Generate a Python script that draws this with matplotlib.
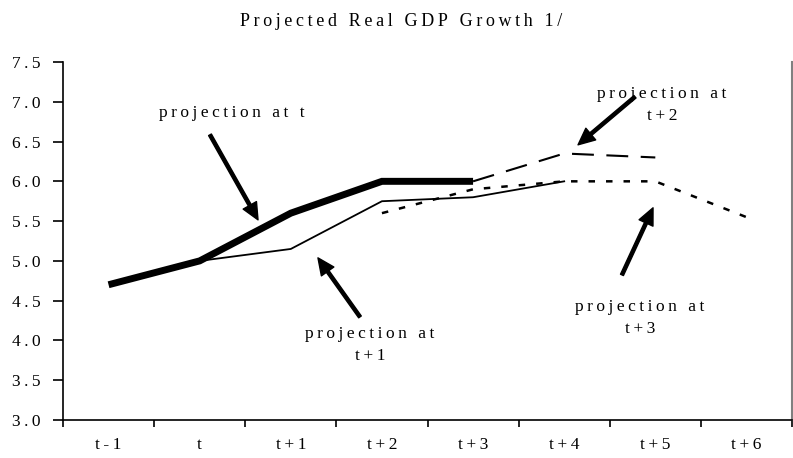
import matplotlib
matplotlib.use("Agg")
import matplotlib.pyplot as plt
import numpy as np

categories = ["t-1", "t", "t+1", "t+2", "t+3", "t+4", "t+5", "t+6"]
proj_t  = [4.70, 5.00, 5.60, 6.00, 6.00, None, None, None]
proj_t1 = [None, 5.00, 5.15, 5.75, 5.80, 6.00, None, None]
proj_t2 = [None, None, None, None, 6.00, 6.35, 6.30, None]
proj_t3 = [None, None, None, 5.60, 5.90, 6.00, 6.00, 5.55]
yticks = [3.0, 3.5, 4.0, 4.5, 5.0, 5.5, 6.0, 6.5, 7.0, 7.5]
title = "Projected Real GDP Growth 1/"

FAM = ["Liberation Serif", "DejaVu Serif"]
TS = "\u2009"

def spaced(s):
    return "\n".join(TS.join(list(line)) for line in s.split("\n"))

def arr(v):
    return np.array([np.nan if a is None else a for a in v], dtype=float)

fig = plt.figure(figsize=(7.93, 4.58), dpi=100)
ax = fig.add_axes([63/793, 1-420/458, (792-63)/793, (420-62)/458])
x = np.arange(len(categories))

ax.plot(x, arr(proj_t), color="black", lw=5.0, solid_capstyle="butt", solid_joinstyle="miter", zorder=4)
ax.plot(x, arr(proj_t1), color="black", lw=1.3, zorder=3)
ax.plot(x, arr(proj_t2), color="black", lw=1.5, linestyle=(0, (10.5, 6)), zorder=3)
ax.plot(x, arr(proj_t3), color="black", lw=1.8, linestyle=(0, (2.6, 4.4)), zorder=3)

ax.set_xlim(-0.5, len(categories) - 0.5)
ax.set_ylim(3.0, 7.5)
ax.set_yticks(yticks)
ax.set_yticklabels([spaced(f"{v:.1f}") for v in yticks], family=FAM, fontsize=12.5)
ax.set_xticks(x)
ax.set_xticklabels([spaced(c) for c in categories], family=FAM, fontsize=12.5)
ax.set_xticks(np.arange(-0.5, len(categories)), minor=True)
ax.tick_params(axis="x", which="major", length=0, pad=12)
ax.tick_params(axis="x", which="minor", length=5, width=1.2, direction="out")
ax.tick_params(axis="y", length=7, width=1.2, direction="out", pad=9)
ax.spines["top"].set_visible(False)
ax.spines["right"].set_color("#808080")
ax.spines["right"].set_linewidth(1.5)
ax.spines["left"].set_linewidth(1.2)
ax.spines["bottom"].set_linewidth(1.2)

fig.text(240/793, 1-22/458, spaced(title), family=FAM, fontsize=13, ha="left", va="center")

astyle = dict(arrowstyle="simple,head_length=12,head_width=11,tail_width=2.3",
              mutation_scale=1, color="black", shrinkA=0, shrinkB=0)
arrows = [((1.113, 6.585), (1.640, 5.516)),
          ((2.759, 4.296), (2.298, 5.038)),
          ((5.777, 7.063), (5.152, 6.459)),
          ((5.634, 4.824), (5.975, 5.667))]
for tail, tip in arrows:
    ax.annotate("", xy=tip, xytext=tail, arrowprops=astyle, zorder=5)

labels = [("projection at t", 1.355, 6.862),
          ("projection at\nt+1", 2.869, 3.943),
          ("projection at\nt+2", 6.074, 6.962),
          ("projection at\nt+3", 5.832, 4.283)]
for s, lx, ly in labels:
    ax.text(lx, ly, spaced(s), family=FAM, fontsize=12.5, ha="center", va="center",
            multialignment="center", linespacing=1.45)

fig.savefig("out.png", dpi=100)
